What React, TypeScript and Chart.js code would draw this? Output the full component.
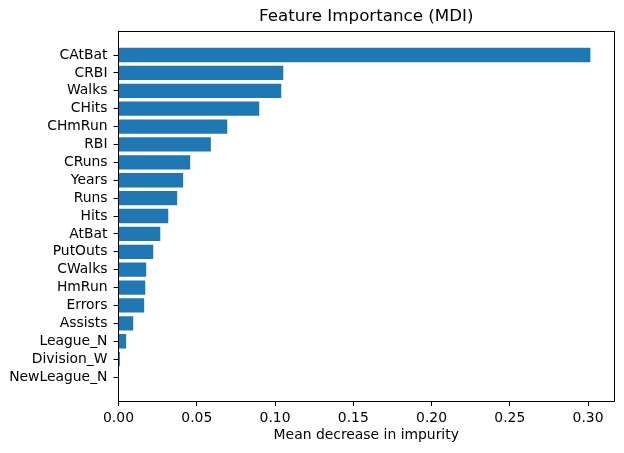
import React, { useEffect, useRef } from "react";
import { Chart, registerables } from "chart.js";

Chart.register(...registerables);

const features = [
  "NewLeague_N", "Division_W", "League_N", "Assists", "Errors", "HmRun", "CWalks",
  "PutOuts", "AtBat", "Hits", "Runs", "Years", "CRuns", "RBI", "CHmRun", "CHits",
  "Walks", "CRBI", "CAtBat",
];
const importance = [
  0.0002, 0.0009, 0.0049, 0.0094, 0.0164, 0.0171, 0.0177, 0.0222, 0.0267, 0.0318,
  0.0375, 0.0413, 0.0458, 0.059, 0.0695, 0.0899, 0.104, 0.1053, 0.3015,
];
const xTicks = [0, 0.05, 0.1, 0.15, 0.2, 0.25, 0.3];
const titleText = "Feature Importance (MDI)";
const xLabel = "Mean decrease in impurity";

const FONT = "'DejaVu Sans', sans-serif";

export default function App() {
  const ref = useRef<HTMLCanvasElement>(null);
  useEffect(() => {
    document.body.style.margin = "0";
    const n = features.length;
    const span = n - 1 + 0.8;
    const yMin = -0.4 - 0.05 * span;
    const yMax = n - 1 + 0.4 + 0.05 * span;
    const xMax = Math.max(...importance) * 1.05;
    const spine = (position: string, horizontal: boolean, min: number, max: number) => ({
      type: "linear",
      position,
      min,
      max,
      display: true,
      afterFit: (scale: any) => {
        if (horizontal) scale.height = 0;
        else scale.width = 0;
      },
      ticks: { display: false },
      grid: { display: true, drawOnChartArea: false, drawTicks: false, tickLength: 0 },
      border: { display: true, color: "#000", width: 1 },
    });
    const chart = new Chart(ref.current!, {
      type: "bar",
      data: {
        datasets: [
          {
            data: importance.map((v, i) => ({ x: v, y: i })),
            backgroundColor: "#1f77b4",
            borderWidth: 0,
            barPercentage: 1,
            categoryPercentage: 0.8,
          },
        ],
      },
      options: {
        indexAxis: "y",
        animation: false,
        responsive: false,
        maintainAspectRatio: false,
        devicePixelRatio: 1,
        layout: { padding: { left: 0, right: 10, top: 0, bottom: 0 } },
        plugins: {
          legend: { display: false },
          tooltip: { enabled: false },
          title: {
            display: true,
            fullSize: false,
            text: titleText,
            color: "#000",
            font: { family: FONT, size: 16.7, weight: "normal", lineHeight: 1.2 },
            padding: { top: 7, bottom: 4 },
          },
        },
        scales: {
          x: {
            type: "linear",
            min: 0,
            max: xMax,
            offset: false,
            afterBuildTicks: (scale: any) => {
              scale.ticks = xTicks.map((v) => ({ value: v }));
            },
            afterFit: (scale: any) => {
              scale.height = 52;
            },
            ticks: {
              color: "#000",
              font: { family: FONT, size: 13.9 },
              padding: 4,
              maxRotation: 0,
              autoSkip: false,
              callback: (v: any) => Number(v).toFixed(2),
            },
            grid: {
              offset: false,
              drawOnChartArea: false,
              drawTicks: true,
              tickLength: 5,
              tickColor: "#000",
            },
            border: { display: true, color: "#000" },
            title: {
              display: true,
              text: xLabel,
              color: "#000",
              font: { family: FONT, size: 13.9, lineHeight: 1.2 },
              padding: { top: 4, bottom: 9.7 },
            },
          },
          y: {
            type: "linear",
            min: yMin,
            max: yMax,
            offset: false,
            afterBuildTicks: (scale: any) => {
              scale.ticks = features.map((_, i) => ({ value: i }));
            },
            afterFit: (scale: any) => {
              scale.width = 118.5;
            },
            ticks: {
              color: "#000",
              font: { family: FONT, size: 13.9 },
              padding: 6,
              autoSkip: false,
              callback: (v: any) => features[Number(v)] ?? "",
            },
            grid: {
              offset: false,
              drawOnChartArea: false,
              drawTicks: true,
              tickLength: 5,
              tickColor: "#000",
            },
            border: { display: true, color: "#000" },
          },
          xTop: spine("top", true, 0, xMax),
          yRight: spine("right", false, yMin, yMax),
        },
      },
    } as any);
    return () => chart.destroy();
  }, []);
  return (
    <div style={{ width: 624, height: 453, background: "#fff" }}>
      <canvas ref={ref} width={624} height={453} style={{ display: "block" }} />
    </div>
  );
}
